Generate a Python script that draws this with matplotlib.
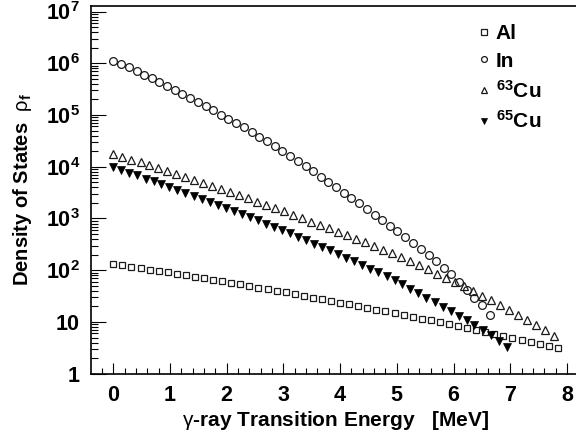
import matplotlib
matplotlib.use("Agg")
import matplotlib.pyplot as plt
from matplotlib.ticker import MultipleLocator, LogLocator, FuncFormatter, NullFormatter
import numpy as np

plt.rcParams['font.family'] = ['Liberation Sans', 'DejaVu Sans']
plt.rcParams['mathtext.fontset'] = 'custom'
plt.rcParams['mathtext.rm'] = 'Liberation Sans'
plt.rcParams['mathtext.bf'] = 'Liberation Sans:bold'
plt.rcParams['mathtext.it'] = 'Liberation Sans:italic'

# ---------------- data ----------------
al_energy = [0.00, 0.16, 0.32, 0.48, 0.64, 0.80, 0.96, 1.12, 1.28, 1.44,
             1.60, 1.76, 1.92, 2.08, 2.24, 2.40, 2.56, 2.72, 2.88, 3.04,
             3.20, 3.36, 3.52, 3.68, 3.84, 4.00, 4.16, 4.32, 4.48, 4.64,
             4.80, 4.96, 5.12, 5.28, 5.44, 5.60, 5.76, 5.92, 6.08, 6.24,
             6.40, 6.56, 6.72, 6.88, 7.04, 7.20, 7.36, 7.52, 7.68, 7.84]
al_density = [131.8, 123.9, 116.4, 109.1, 102.6, 96.4, 90.6, 84.9, 79.6, 74.6,
              70.0, 65.8, 61.7, 57.4, 53.5, 49.8, 46.3, 43.2, 40.1, 37.3,
              34.6, 32.1, 29.7, 27.6, 25.6, 23.7, 21.9, 20.2, 18.7, 17.3,
              16.0, 14.8, 13.6, 12.5, 11.6, 10.7, 9.84, 9.08, 8.32, 7.60,
              6.95, 6.35, 5.79, 5.30, 4.84, 4.43, 4.05, 3.70, 3.38, 3.09]

in_energy = [0.00, 0.14, 0.27, 0.41, 0.54, 0.68, 0.81, 0.95, 1.08, 1.22,
             1.36, 1.49, 1.63, 1.76, 1.90, 2.03, 2.17, 2.30, 2.44, 2.57,
             2.71, 2.85, 2.98, 3.12, 3.25, 3.39, 3.52, 3.66, 3.79, 3.93,
             4.07, 4.20, 4.34, 4.47, 4.61, 4.74, 4.88, 5.01, 5.15, 5.28,
             5.42, 5.56, 5.69, 5.83, 5.96, 6.10, 6.23, 6.37, 6.50, 6.64]
in_density = [1.12e6, 9.55e5, 8.32e5, 7.08e5, 6.03e5, 5.13e5, 4.37e5, 3.72e5, 3.09e5, 2.57e5,
              2.14e5, 1.82e5, 1.48e5, 1.23e5, 1.02e5, 8.51e4, 6.92e4, 5.75e4, 4.68e4, 3.80e4,
              3.09e4, 2.51e4, 2.04e4, 1.62e4, 1.32e4, 1.02e4, 8.32e3, 6.46e3, 5.13e3, 3.98e3,
              3.16e3, 2.45e3, 1.95e3, 1.51e3, 1.17e3, 933, 724, 575, 437, 339,
              263, 195, 148, 110, 83.2, 58.9, 41.7, 29.5, 20.9, 13.8]

cu63_energy = [0.00, 0.16, 0.32, 0.48, 0.63, 0.79, 0.95, 1.11, 1.27, 1.43,
               1.59, 1.74, 1.90, 2.06, 2.22, 2.38, 2.54, 2.70, 2.85, 3.01,
               3.17, 3.33, 3.49, 3.65, 3.81, 3.96, 4.12, 4.28, 4.44, 4.60,
               4.76, 4.92, 5.07, 5.23, 5.39, 5.55, 5.71, 5.87, 6.03, 6.18,
               6.34, 6.50, 6.66, 6.82, 6.98, 7.14, 7.29, 7.45, 7.61, 7.77]
cu63_density = [1.78e4, 1.56e4, 1.37e4, 1.21e4, 1.07e4, 9420, 8280, 7240, 6350, 5560,
                4880, 4310, 3770, 3280, 2830, 2440, 2110, 1820, 1580, 1370,
                1170, 1010, 869, 748, 643, 557, 475, 405, 344, 292,
                248, 211, 180, 150, 124, 104, 86.1, 71.6, 59.3, 48.9,
                39.8, 32.4, 26.3, 21.3, 17.4, 13.8, 11.1, 8.73, 6.89, 5.43]

cu65_energy = [0.00, 0.14, 0.28, 0.42, 0.57, 0.71, 0.85, 0.99, 1.13, 1.27,
               1.42, 1.56, 1.70, 1.84, 1.98, 2.12, 2.27, 2.41, 2.55, 2.69,
               2.83, 2.97, 3.12, 3.26, 3.40, 3.54, 3.68, 3.82, 3.97, 4.11,
               4.25, 4.39, 4.53, 4.67, 4.82, 4.96, 5.10, 5.24, 5.38, 5.52,
               5.67, 5.81, 5.95, 6.09, 6.23, 6.37, 6.52, 6.66, 6.80, 6.94]
cu65_density = [10000, 8790, 7730, 6790, 5920, 5200, 4570, 4020, 3530, 3100,
                2700, 2380, 2090, 1840, 1610, 1410, 1210, 1060, 920, 800,
                697, 607, 518, 445, 382, 328, 282, 243, 206, 175,
                149, 126, 107, 90.8, 76.2, 64.6, 53.6, 44.1, 36.1, 29.7,
                24.0, 19.8, 16.3, 13.2, 10.7, 8.71, 6.95, 5.64, 4.28, 3.24]

series_labels = ['Al', 'In', r'$\mathbf{^{63}}$Cu', r'$\mathbf{^{65}}$Cu']
x_title = r'$\mathrm{\gamma}$-ray Transition Energy   [MeV]'
y_title = r'Density of States  $\mathrm{\rho}_{\mathbf{f}}$'

# ---------------- figure ----------------
W, H = 576, 438
fig = plt.figure(figsize=(W / 100, H / 100), dpi=100)
ax = fig.add_axes([91 / W, (H - 373.7) / H, (W - 91) / W, (373.7 - 6) / H])

ec = '#1a1a1a'
ax.plot(al_energy, al_density, ls='none', marker='s', ms=5.0, mfc='none', mec=ec, mew=0.9, label=series_labels[0])
ax.plot(in_energy, in_density, ls='none', marker='o', ms=5.6, mfc='none', mec=ec, mew=0.9, label=series_labels[1])
ax.plot(cu63_energy, cu63_density, ls='none', marker='^', ms=6.0, mfc='none', mec=ec, mew=0.9, label=series_labels[2])
ax.plot(cu65_energy, cu65_density, ls='none', marker='v', ms=6.0, mfc='black', mec='black', mew=0.5, label=series_labels[3])

ax.set_yscale('log')
ax.set_xlim(-0.393, 8.16)
ax.set_ylim(1, 1.28e7)

ax.xaxis.set_major_locator(MultipleLocator(1))
ax.xaxis.set_minor_locator(MultipleLocator(0.2))
ax.yaxis.set_major_locator(LogLocator(base=10, numticks=20))
ax.yaxis.set_minor_locator(LogLocator(base=10, subs=np.arange(2, 10), numticks=20))
ax.yaxis.set_minor_formatter(NullFormatter())

def yfmt(v, pos):
    e = int(round(np.log10(v)))
    if e == 0:
        return '1'
    if e == 1:
        return '10'
    return r'$\mathbf{10^{%d}}$' % e

ax.yaxis.set_major_formatter(FuncFormatter(yfmt))
ax.xaxis.set_major_formatter(FuncFormatter(lambda v, p: '%d' % round(v)))

for s in ['top', 'left', 'bottom']:
    ax.spines[s].set_linewidth(1.2)
ax.spines['right'].set_visible(False)

ax.tick_params(axis='x', which='major', direction='in', length=8, width=0.8, pad=8, labelsize=15.5)
ax.tick_params(axis='x', which='minor', direction='in', length=4, width=0.8)
ax.tick_params(axis='y', which='major', direction='in', length=11, width=0.8, pad=8, labelsize=15.5)
ax.tick_params(axis='y', which='minor', direction='in', length=5.3, width=0.8)
for lab in ax.get_xticklabels() + ax.get_yticklabels():
    lab.set_fontweight('bold')

ax.set_xlabel(x_title, fontsize=15, fontweight='bold')
ax.xaxis.set_label_coords(0.5 + 2.5 / (W - 91), (373.7 - 420) / (373.7 - 6))
ax.xaxis.label.set_va('center')
ax.set_ylabel(y_title, fontsize=14.5, fontweight='bold', labelpad=8)

leg = ax.legend(loc='upper left', bbox_to_anchor=(476 / W, (H - 24) / H), bbox_transform=fig.transFigure,
                frameon=False, prop={'weight': 'bold', 'size': 15},
                handlelength=0.8, handletextpad=0.15, labelspacing=0.42, markerscale=0.75,
                borderaxespad=0, borderpad=0)

fig.savefig('out.png', dpi=100)
